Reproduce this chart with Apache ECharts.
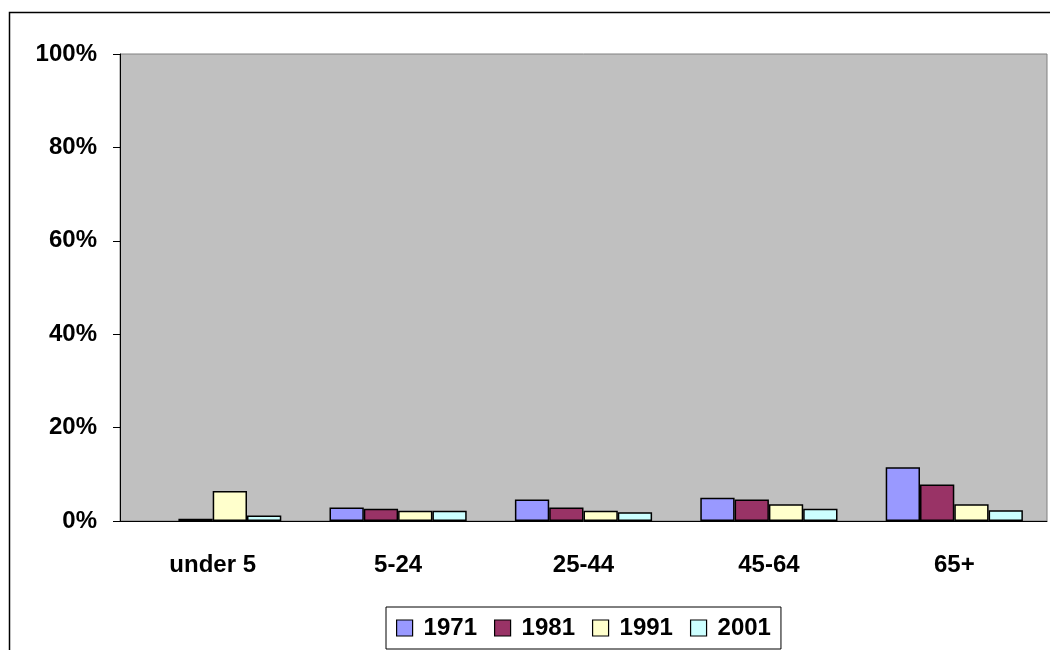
<!DOCTYPE html>
<html lang="en">
<head>
    <meta charset="UTF-8">
    <title>age groups</title>
    <script type="text/javascript" src="https://cdn.jsdelivr.net/npm/echarts@6/dist/echarts.min.js"></script>
</head>
<body style="margin:0">
    <div id="main" style="width: 1050px; height: 650px"></div>
    <script type="text/javascript">
        var categories = ['under 5', '5-24', '25-44', '45-64', '65+'];
        var years = ['1971', '1981', '1991', '2001'];
        var v1971 = [null, 2.9, 4.6, 5.0, 11.5];
        var v1981 = [0.5, 2.6, 2.9, 4.6, 7.8];
        var v1991 = [6.4, 2.2, 2.2, 3.6, 3.6];
        var v2001 = [1.2, 2.2, 1.9, 2.6, 2.3];
        var colors = ['#9999FF', '#993366', '#FFFFCC', '#CCFFFF'];

        var myChart = echarts.init(document.getElementById('main'));
        var font = {fontFamily: 'Liberation Sans', fontWeight: 'bold', fontSize: 24, color: '#000'};

        var all = [v1971, v1981, v1991, v2001];
        var series = all.map(function (vals, i) {
            return {
                name: years[i],
                type: 'bar',
                data: vals,
                barGap: 0,
                barCategoryGap: '26%',
                itemStyle: {color: colors[i], borderColor: '#000', borderWidth: 1.5}
            };
        });

        option = {
            animation: false,
            graphic: [{
                type: 'rect',
                shape: {x: 9.5, y: 12.5, width: 1100, height: 700},
                style: {fill: 'none', stroke: '#000', lineWidth: 1.5},
                z: -1
            }],
            grid: {
                left: 120, top: 54, right: 3, bottom: 129,
                show: true, backgroundColor: '#C0C0C0', borderColor: '#808080', borderWidth: 1
            },
            legend: {
                data: years,
                icon: 'rect',
                top: 607, left: 386,
                itemWidth: 16, itemHeight: 16, itemGap: 17,
                padding: [9, 10, 9, 10],
                borderColor: '#000', borderWidth: 1,
                textStyle: Object.assign({padding: [0, 0, 0, 6]}, font),
                itemStyle: {borderColor: '#000', borderWidth: 1.2}
            },
            xAxis: {
                type: 'category',
                data: categories,
                axisLine: {lineStyle: {color: '#000'}},
                axisTick: {length: 7, lineStyle: {color: '#000'}},
                axisLabel: Object.assign({margin: 32}, font)
            },
            yAxis: {
                type: 'value',
                min: 0, max: 100, interval: 20,
                axisLine: {show: true, lineStyle: {color: '#000'}},
                axisTick: {show: true, length: 7, lineStyle: {color: '#000'}},
                splitLine: {show: false},
                axisLabel: Object.assign({margin: 23, formatter: '{value}%'}, font)
            },
            series: series
        };

        myChart.setOption(option);
    </script>
</body>
</html>
